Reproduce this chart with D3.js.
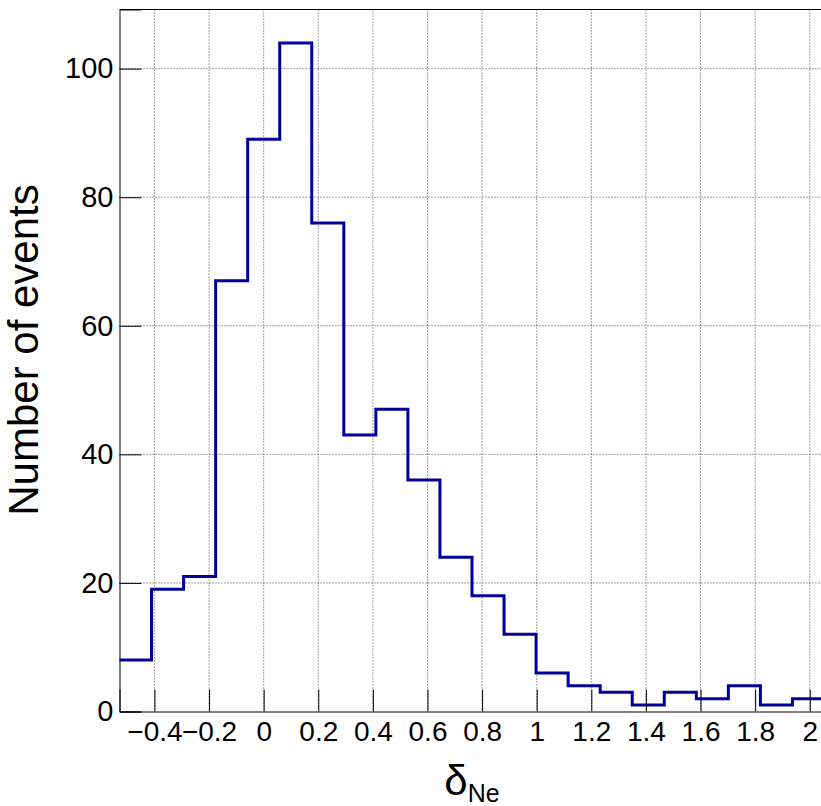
<!DOCTYPE html>
<html>
<head>
<meta charset="utf-8">
<script src="https://cdn.jsdelivr.net/npm/d3@7"></script>
<style>
  body { margin: 0; background: #fff; }
  svg { display: block; font-family: "Liberation Sans", Arial, Helvetica, sans-serif; }
</style>
</head>
<body>
<svg width="821" height="806"></svg>
<script>
// histogram: 22 equal bins between xMin and xMax
const xMin = -0.528, xMax = 2.054;
const counts = [8, 19, 21, 67, 89, 104, 76, 43, 47, 36, 24, 18, 12, 6, 4, 3, 1, 3, 2, 4, 1, 2];
const yMax = 109.2;

// tick marks
const xTicks = [-0.4, -0.2, 0, 0.2, 0.4, 0.6, 0.8, 1, 1.2, 1.4, 1.6, 1.8, 2];
const yTicks = [0, 20, 40, 60, 80, 100];
const xMinor = d3.range(-0.5, 2.06, 0.05);
const yMinor = d3.range(0, 106, 5);

const svg = d3.select("svg");

// frame in pixels (right edge lies just outside the window)
const fLeft = 119.5, fRight = 824.5, fTop = 9.5, fBottom = 711.5;

const x = d3.scaleLinear().domain([xMin, xMax]).range([fLeft, fRight]);
const y = d3.scaleLinear().domain([0, yMax]).range([fBottom, fTop]);

const binW = (xMax - xMin) / counts.length;
const fmt = d3.format("~g");

// grid
svg.append("g")
    .selectAll("line")
    .data(xTicks)
    .join("line")
    .attr("x1", d => x(d)).attr("x2", d => x(d))
    .attr("y1", fTop).attr("y2", fBottom)
    .attr("stroke", "#444")
    .attr("stroke-dasharray", "1 2");

svg.append("g")
    .selectAll("line")
    .data(yTicks.filter(d => d > 0))
    .join("line")
    .attr("x1", fLeft).attr("x2", fRight)
    .attr("y1", d => y(d)).attr("y2", d => y(d))
    .attr("stroke", "#444")
    .attr("stroke-dasharray", "1 2");

// histogram outline
const pts = counts.map((c, i) => [xMin + i * binW, c]);
pts.push([xMax, counts[counts.length - 1]]);

svg.append("path")
    .datum(pts)
    .attr("fill", "none")
    .attr("stroke", "#000099")
    .attr("stroke-width", 3)
    .attr("d", d3.line()
        .x(d => x(d[0]))
        .y(d => y(d[1]))
        .curve(d3.curveStepAfter));

// top frame line
svg.append("line")
    .attr("x1", fLeft).attr("x2", fRight)
    .attr("y1", fTop).attr("y2", fTop)
    .attr("stroke", "#000");

// x axis (ticks point up into the frame)
const gx = svg.append("g").attr("transform", `translate(0,${fBottom})`);
gx.call(d3.axisBottom(x).tickValues(xMinor).tickSize(-11).tickFormat(""));
gx.call(d3.axisBottom(x).tickValues(xTicks).tickSize(-22).tickPadding(10).tickFormat(fmt));
gx.selectAll(".domain").attr("stroke", "#000");
gx.selectAll("text").attr("font-size", 28).attr("fill", "#000").attr("font-family", null);

// y axis (ticks point right into the frame)
const gy = svg.append("g").attr("transform", `translate(${fLeft},0)`);
gy.call(d3.axisLeft(y).tickValues(yMinor).tickSize(-11).tickFormat(""));
gy.call(d3.axisLeft(y).tickValues(yTicks).tickSize(-22).tickPadding(6).tickFormat(fmt));
gy.selectAll(".domain").attr("stroke", "#000");
gy.selectAll("text").attr("font-size", 29).attr("fill", "#000").attr("font-family", null);

// axis titles
svg.append("text")
    .attr("transform", "translate(38,350) rotate(-90)")
    .attr("text-anchor", "middle")
    .attr("font-size", 42)
    .text("Number of events");

const xt = svg.append("text")
    .attr("x", 472)
    .attr("y", 795)
    .attr("text-anchor", "middle")
    .attr("font-size", 42);
xt.append("tspan").text("δ");
xt.append("tspan").attr("dy", 7).attr("font-size", 25).text("Ne");
</script>
</body>
</html>
